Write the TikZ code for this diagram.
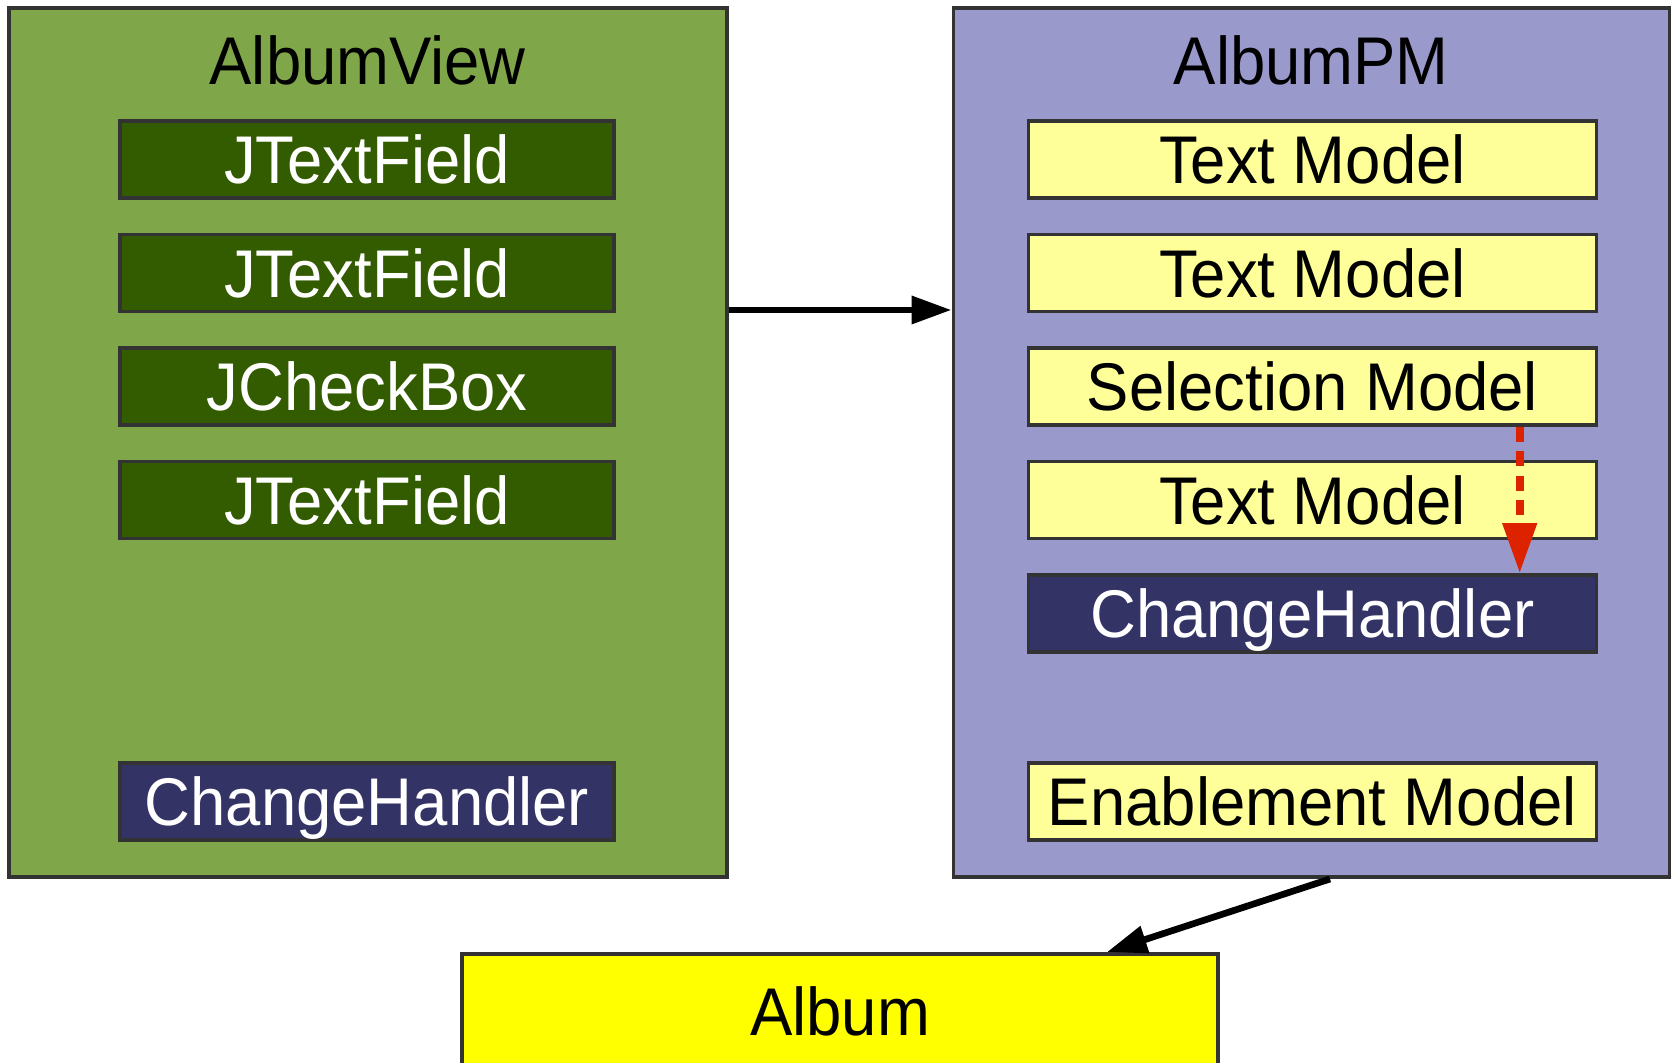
\documentclass[tikz,border=0pt]{standalone}
\usepackage{fontspec}
\setmainfont{Liberation Sans}[FakeStretch=0.94]
\usetikzlibrary{arrows.meta, positioning}

\definecolor{viewgreen}{HTML}{7FA74A}
\definecolor{widgetgreen}{HTML}{335C00}
\definecolor{handlerblue}{HTML}{333366}
\definecolor{pmlilac}{HTML}{9999CC}
\definecolor{modelyellow}{HTML}{FFFF99}
\definecolor{albumyellow}{HTML}{FFFF00}
\definecolor{edgegray}{HTML}{333333}
\definecolor{notifyred}{HTML}{DD2200}

\begin{document}
\begin{tikzpicture}[
    every node/.style={font=\fontsize{19.2}{23}\selectfont},
    panel/.style={draw=edgegray, line width=1pt, inner sep=0pt, minimum height=8.69cm},
    item/.style={draw=edgegray, line width=1pt, inner sep=0pt, minimum height=0.77cm,
                 text height=0.485cm, text depth=0pt},
    widget/.style={item, fill=widgetgreen, text=white, minimum width=4.94cm},
    model/.style={item, fill=modelyellow, minimum width=5.68cm},
    handler/.style={item, fill=handlerblue, text=white},
    conn/.style={-{Triangle[length=0.40cm,width=0.27cm]}, line width=1.9pt},
    notify/.style={-{Triangle[length=0.50cm,width=0.33cm]}, line width=2.2pt, notifyred,
                   dash pattern=on 0.15cm off 0.095cm},
    node distance=0.33cm
]
    \useasboundingbox (0,0) rectangle (16.71,-10.63);

    % the two panels
    \node[panel, fill=viewgreen, minimum width=7.18cm] (view) at (3.6775,-4.4275) {};
    \node[panel, fill=pmlilac, minimum width=7.16cm] (pm) at (13.1125,-4.4275) {};
    \node[anchor=base] (viewtitle) at (3.6775,-0.85) {AlbumView};
    \node[anchor=base] (pmtitle) at (13.1125,-0.85) {AlbumPM};

    % view side
    \node[widget] (field1) at (3.67,-1.593) {JTextField};
    \node[widget, below=of field1] (field2) {JTextField};
    \node[widget, below=of field2] (checkbox) {JCheckBox};
    \node[widget, below=of checkbox] (field3) {JTextField};
    \node[handler, minimum width=4.94cm] (viewhandler) at (3.67,-8.014) {ChangeHandler};

    % presentation model side
    \node[model] (text1) at (13.124,-1.593) {Text Model};
    \node[model, below=of text1] (text2) {Text Model};
    \node[model, below=of text2] (selection) {Selection Model};
    \node[model, below=of selection] (text3) {Text Model};
    \node[handler, minimum width=5.68cm, below=of text3] (pmhandler) {ChangeHandler};
    \node[model] (enablement) at (13.124,-8.014) {Enablement Model};

    % domain object
    \node[draw=edgegray, line width=1pt, fill=albumyellow, inner sep=0pt,
          minimum width=7.56cm, minimum height=1.15cm, text height=0.485cm, text depth=0pt,
          anchor=north] (album) at (8.40,-9.52) {Album};

    % connectors
    \coordinate (bindlevel) at (0,-3.10);
    \coordinate (notifyx) at (15.197,0);
    \coordinate (albumfrom) at (13.30,0);
    \coordinate (albumto) at (11.07,0);
    \draw[conn] (view.east |- bindlevel) -- (pm.west |- bindlevel);
    \draw[notify] (selection.south -| notifyx) -- (pmhandler.north -| notifyx);
    \draw[conn] (pm.south -| albumfrom) -- (album.north -| albumto);
\end{tikzpicture}
\end{document}
